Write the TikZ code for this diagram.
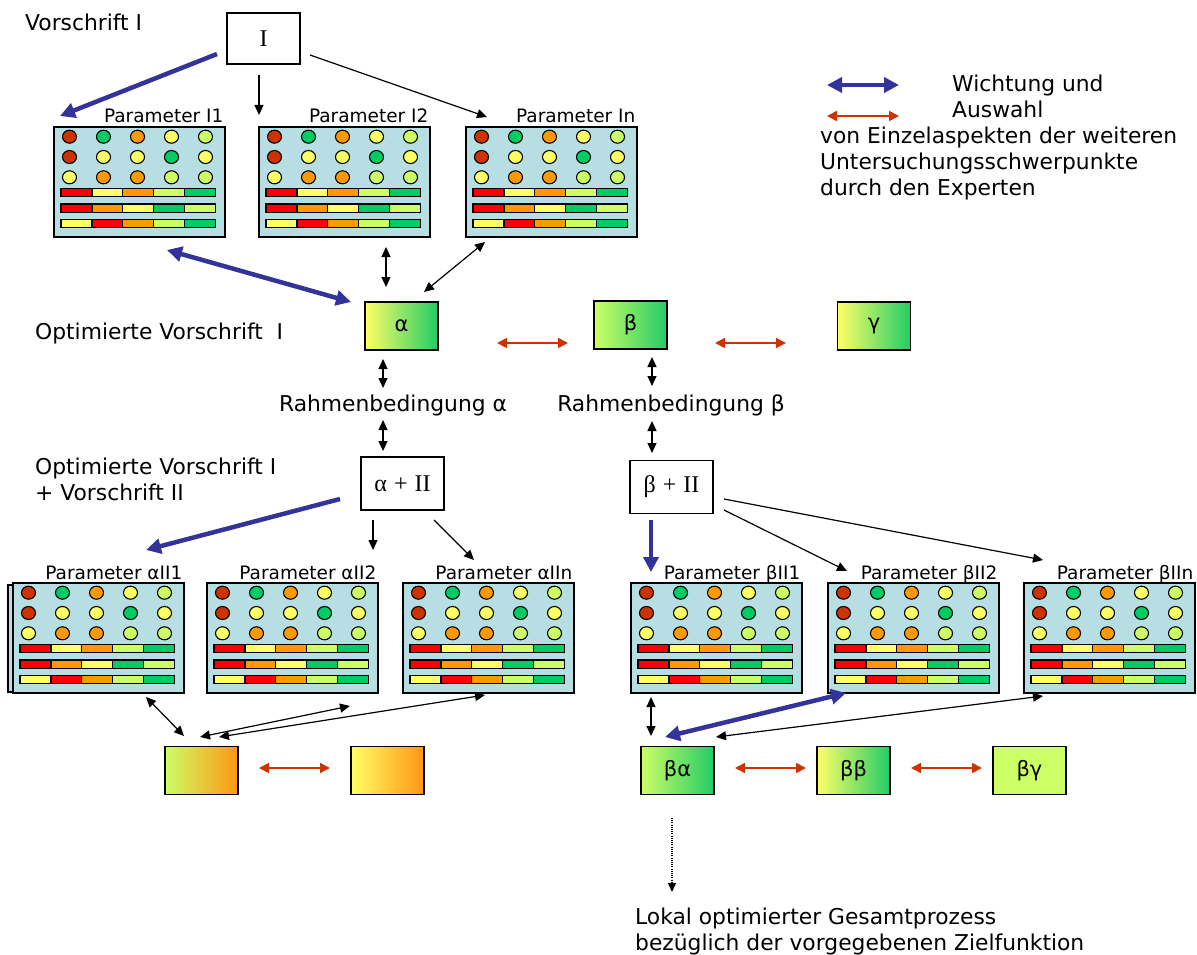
\documentclass[tikz,border=0pt]{standalone}
\usepackage{fontspec}
\setmainfont{DejaVu Sans}
\newfontfamily\serifb{Liberation Serif}
\usetikzlibrary{arrows.meta,calc}
\definecolor{pbg}{RGB}{183,222,226}
\definecolor{cdr}{RGB}{204,51,0}
\definecolor{cgr}{RGB}{0,204,102}
\definecolor{cor}{RGB}{255,153,0}
\definecolor{cye}{RGB}{255,255,102}
\definecolor{clg}{RGB}{204,255,102}
\definecolor{cre}{RGB}{255,0,0}
\definecolor{cblue}{RGB}{51,51,153}
\definecolor{corr}{RGB}{204,51,0}
\definecolor{ggrn}{RGB}{34,204,102}
\definecolor{gorg}{RGB}{255,150,20}

\newcommand\parambox[4]{%
  \node[pbox] (#1) at (#2,#3) {};
  \node[plabel] (#1l) at ($(#1.north east)+(-2,-3)$) {#4};
  \begin{scope}[shift={(#1.north west)}]
    \foreach \c [count=\j from 0] in {cdr,cgr,cor,cye,clg}
      \draw[dotc,fill=\c] ({16.5+34*\j},10.7) ellipse [x radius=7pt,y radius=6.5pt];
    \foreach \c [count=\j from 0] in {cdr,cye,cye,cgr,cye}
      \draw[dotc,fill=\c] ({16.5+34*\j},31) ellipse [x radius=7pt,y radius=6.5pt];
    \foreach \c [count=\j from 0] in {cye,cor,cor,clg,clg}
      \draw[dotc,fill=\c] ({16.5+34*\j},51.3) ellipse [x radius=7pt,y radius=6.5pt];
    \foreach \c [count=\j from 0] in {cre,cye,cor,clg,cgr}
      \filldraw[seg,fill=\c] ({8+30.9*\j},62.3) rectangle ++(30.9,8.4);
    \foreach \c [count=\j from 0] in {cre,cor,cye,cgr,clg}
      \filldraw[seg,fill=\c] ({8+30.9*\j},78) rectangle ++(30.9,8.4);
    \foreach \c [count=\j from 0] in {cye,cre,cor,clg,cgr}
      \filldraw[seg,fill=\c] ({8+30.9*\j},93.3) rectangle ++(30.9,8.4);
  \end{scope}}

\begin{document}
\begin{tikzpicture}[x=1pt,y=-1pt,
  pbox/.style={draw,line width=1.6pt,fill=pbg,minimum width=171pt,minimum height=110pt,inner sep=0pt,anchor=north west},
  plabel/.style={font=\fontsize{18.5}{22}\selectfont,inner sep=0pt,anchor=base east},
  dotc/.style={draw=black,line width=1.1pt},
  seg/.style={draw=black,line width=1.2pt},
  gbox/.style={draw,line width=1.5pt,minimum width=73pt,minimum height=48pt,inner sep=0pt,font=\fontsize{21}{24}\selectfont},
  wbox/.style={draw,line width=1.2pt,fill=white,inner sep=0pt,font=\serifb\fontsize{24}{26}\selectfont},
  txt/.style={font=\fontsize{21.8}{26}\selectfont,inner sep=0pt,align=left,anchor=west},
  blk/.style={line width=1.2pt,-{Triangle[length=10pt,width=9pt]}},
  blkd/.style={line width=1.2pt,{Triangle[length=10pt,width=9pt]}-{Triangle[length=10pt,width=9pt]}},
  blu/.style={line width=4.5pt,cblue,-{Triangle[length=15pt,width=15pt]}},
  blud/.style={line width=4.5pt,cblue,{Triangle[length=15pt,width=15pt]}-{Triangle[length=15pt,width=15pt]}},
  ora/.style={line width=1.8pt,corr,{Triangle[length=10pt,width=10pt]}-{Triangle[length=10pt,width=10pt]}},
  dots/.style={line width=1.1pt,dash pattern=on 1pt off 1.2pt,-{Triangle[length=9pt,width=8pt]}}]
\useasboundingbox (0,0) rectangle (1197,955);

% ---------- texts ----------
\node[txt] (tVI) at (25,22) {Vorschrift I};
\node[txt] (tOV) at (35,333) {Optimierte Vorschrift~~I};
\node[txt] (tOV2) at (35,479) {Optimierte Vorschrift I\\+ Vorschrift II};
\node[txt,anchor=center] (RA) at (393,405) {Rahmenbedingung α};
\node[txt,anchor=center] (RB) at (671,405) {Rahmenbedingung β};
\node[txt] (leg1) at (952,96) {Wichtung und\\Auswahl};
\node[txt] (leg2) at (820,163) {von Einzelaspekten der weiteren\\Untersuchungsschwerpunkte\\durch den Experten};
\node[txt] (res) at (635,931) {Lokal optimierter Gesamtprozess\\bezüglich der vorgegebenen Zielfunktion};

% ---------- boxes ----------
\node[wbox,minimum width=73pt,minimum height=51pt] (I) at (263.5,38.5) {I};
\node[wbox,minimum width=83pt,minimum height=53pt] (AII) at (402.5,483.5) {α\hspace{7pt}+\hspace{7pt}II};
\node[wbox,minimum width=83pt,minimum height=53pt] (BII) at (671.5,487) {β\hspace{7pt}+\hspace{7pt}II};

\parambox{P1}{53}{126}{Parameter I1}
\parambox{P2}{258}{126}{Parameter I2}
\parambox{Pn}{465}{126}{Parameter In}

\draw[line width=1.6pt,fill=pbg] (8,585) rectangle (178,692);
\parambox{A1}{12}{582}{Parameter αII1}
\parambox{A2}{206}{582}{Parameter αII2}
\parambox{An}{402}{582}{Parameter αIIn}
\parambox{B1}{630}{582}{Parameter βII1}
\parambox{B2}{827}{582}{Parameter βII2}
\parambox{Bn}{1023}{582}{Parameter βIIn}

\node[gbox,left color=cye,right color=ggrn] (al) at (401.5,326) {α};
\node[gbox,left color=clg,right color=ggrn] (be) at (630.5,325) {β};
\node[gbox,left color=cye,right color=ggrn] (ga) at (874,326) {γ};
\node[gbox,left color=clg,right color=gorg] (X1) at (201.5,770.5) {};
\node[gbox,left color=cye,right color=gorg] (X2) at (387.5,770.5) {};
\node[gbox,left color=clg,right color=ggrn] (ba) at (677.5,770.5) {βα};
\node[gbox,left color=cye,right color=ggrn] (bb) at (853.5,770.5) {ββ};
\node[gbox,fill=clg] (bg) at (1029.5,770.5) {βγ};

% ---------- connector end points ----------
\coordinate (c1) at (259,75);   \coordinate (c2) at (259,115);
\coordinate (c3) at (310,55);   \coordinate (c4) at (487,117);
\coordinate (c5) at (217,54);   \coordinate (c6) at (60,116);
\coordinate (c7) at (167,250);  \coordinate (c8) at (351,302);
\coordinate (c9) at (386,247);  \coordinate (c10) at (386,287);
\coordinate (c11) at (485,242); \coordinate (c12) at (424,292);
\coordinate (o1) at (497,343);  \coordinate (o2) at (568,343);
\coordinate (o3) at (715,343);  \coordinate (o4) at (786,343);
\coordinate (d1) at (383,359);  \coordinate (d2) at (383,388);
\coordinate (d3) at (383,420);  \coordinate (d4) at (383,451);
\coordinate (e1) at (652,357);  \coordinate (e2) at (652,386);
\coordinate (e3) at (652,421);  \coordinate (e4) at (652,453);
\coordinate (f1) at (340,499);  \coordinate (f2) at (146,550);
\coordinate (f3) at (373,520);  \coordinate (f4) at (373,550);
\coordinate (f5) at (434,520);  \coordinate (f6) at (474,560);
\coordinate (g1) at (651,520);  \coordinate (g2) at (651,572);
\coordinate (g3) at (724,510);  \coordinate (g4) at (847,571);
\coordinate (g5) at (724,499);  \coordinate (g6) at (1043,560);
\coordinate (h1) at (146,697);  \coordinate (h2) at (184,736);
\coordinate (h3) at (200,737);  \coordinate (h4) at (350,706);
\coordinate (h5) at (219,737);  \coordinate (h6) at (485,695);
\coordinate (o5) at (259,768);  \coordinate (o6) at (330,768);
\coordinate (k1) at (651,697);  \coordinate (k2) at (651,736);
\coordinate (k3) at (665,737);  \coordinate (k4) at (846,693);
\coordinate (k5) at (716,737);  \coordinate (k6) at (1043,696);
\coordinate (o7) at (735,768);  \coordinate (o8) at (806,768);
\coordinate (o9) at (911,768);  \coordinate (o10) at (982,768);
\coordinate (m1) at (672,818);  \coordinate (m2) at (672,892);
\coordinate (l1) at (827,85);   \coordinate (l2) at (899,85);
\coordinate (l3) at (827,116);  \coordinate (l4) at (899,116);

% ---------- connectors ----------
\draw[blk] (c1) -- (c2);
\draw[blk] (c3) -- (c4);
\draw[blu] (c5) -- (c6);
\draw[blud] (c7) -- (c8);
\draw[blkd] (c9) -- (c10);
\draw[blkd] (c11) -- (c12);
\draw[ora] (o1) -- (o2);
\draw[ora] (o3) -- (o4);
\draw[blkd] (d1) -- (d2);
\draw[blkd] (d3) -- (d4);
\draw[blkd] (e1) -- (e2);
\draw[blkd] (e3) -- (e4);
\draw[blu] (f1) -- (f2);
\draw[blk] (f3) -- (f4);
\draw[blk] (f5) -- (f6);
\draw[blu] (g1) -- (g2);
\draw[blk] (g3) -- (g4);
\draw[blk] (g5) -- (g6);
\draw[blkd] (h1) -- (h2);
\draw[blkd] (h3) -- (h4);
\draw[blkd] (h5) -- (h6);
\draw[ora] (o5) -- (o6);
\draw[blkd] (k1) -- (k2);
\draw[blud] (k3) -- (k4);
\draw[blkd] (k5) -- (k6);
\draw[ora] (o7) -- (o8);
\draw[ora] (o9) -- (o10);
\draw[dots] (m1) -- (m2);
\draw[blud] (l1) -- (l2);
\draw[ora] (l3) -- (l4);
\end{tikzpicture}
\end{document}
